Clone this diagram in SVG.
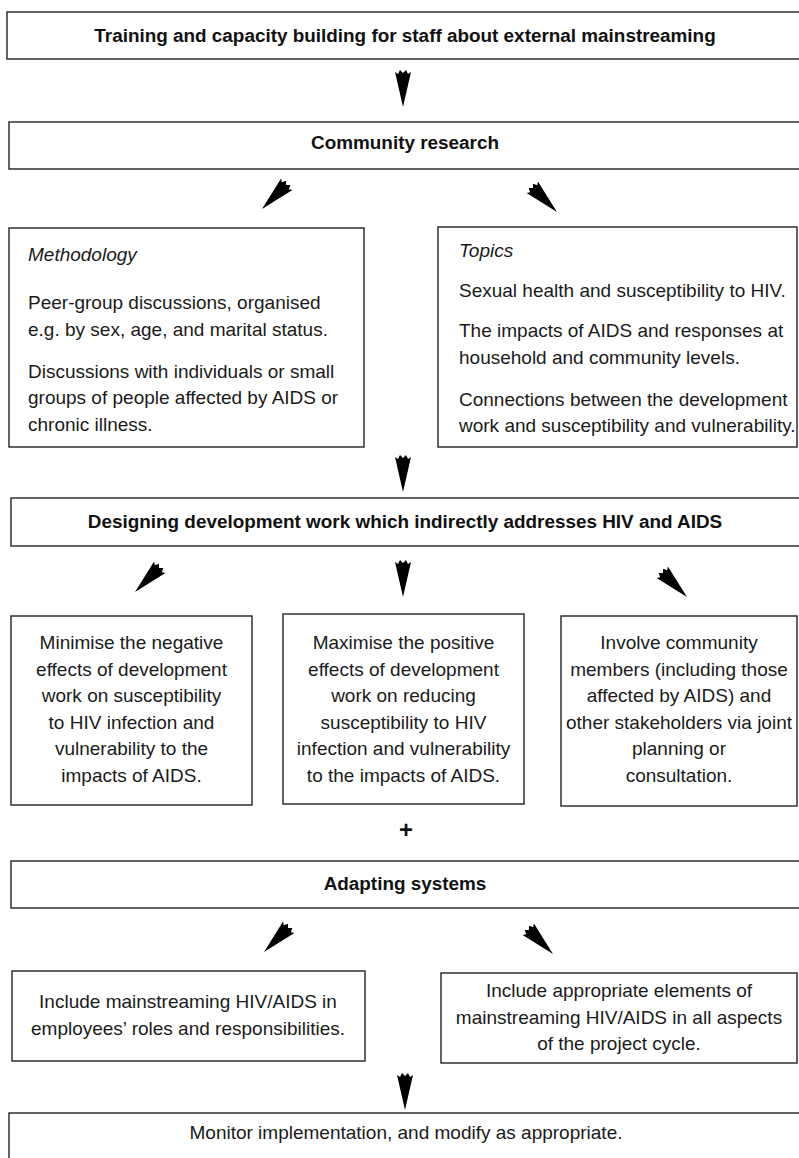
<svg xmlns="http://www.w3.org/2000/svg" xmlns:xlink="http://www.w3.org/1999/xlink" width="799" height="1158" viewBox="0 0 799 1158">
<style>
.box{fill:#fff;stroke:#222;stroke-width:1.4}
.b{font-family:"Liberation Sans",Arial,sans-serif;font-weight:bold;font-size:18.9px;fill:#111;text-anchor:middle}
.t{font-family:"Liberation Sans",Arial,sans-serif;font-size:19px;fill:#1a1a1a}
.c{text-anchor:middle}
.i{font-style:italic}
.arr{fill:#000}
</style>
<defs>
<path id="ah" d="M0,0 L-8,-35 L-5,-33 L-3,-37 L0,-34 L3,-37 L5,-33 L8,-35 Z"/>
</defs>
<rect width="799" height="1158" fill="#fff"/>
<g id="n-training"><rect class="box" x="7" y="12" width="820" height="47"/><text class="b" x="405" y="42">Training and capacity building for staff about external mainstreaming</text></g>
<g id="n-community"><rect class="box" x="9" y="122" width="820" height="47"/><text class="b" x="405" y="149">Community research</text></g>
<g id="n-methodology"><rect class="box" x="9" y="228" width="355" height="219"/>
<text class="t i" x="28" y="261">Methodology</text>
<text class="t" x="28" y="309">Peer-group discussions, organised</text>
<text class="t" x="28" y="336">e.g. by sex, age, and marital status.</text>
<text class="t" x="28" y="378">Discussions with individuals or small</text>
<text class="t" x="28" y="404">groups of people affected by AIDS or</text>
<text class="t" x="28" y="431">chronic illness.</text></g>
<g id="n-topics"><rect class="box" x="438" y="227" width="359" height="220"/>
<text class="t i" x="459" y="257">Topics</text>
<text class="t" x="459" y="297">Sexual health and susceptibility to HIV.</text>
<text class="t" x="459" y="337">The impacts of AIDS and responses at</text>
<text class="t" x="459" y="364">household and community levels.</text>
<text class="t" x="459" y="406">Connections between the development</text>
<text class="t" x="459" y="432">work and susceptibility and vulnerability.</text></g>
<g id="n-designing"><rect class="box" x="11" y="498" width="820" height="48"/><text class="b" x="405" y="528">Designing development work which indirectly addresses HIV and AIDS</text></g>
<g id="n-minimise"><rect class="box" x="11" y="616" width="241" height="189"/>
<text class="t c" x="131.5" y="649">Minimise the negative</text>
<text class="t c" x="131.5" y="675.5">effects of development</text>
<text class="t c" x="131.5" y="702">work on susceptibility</text>
<text class="t c" x="131.5" y="728.5">to HIV infection and</text>
<text class="t c" x="131.5" y="755">vulnerability to the</text>
<text class="t c" x="131.5" y="781.5">impacts of AIDS.</text></g>
<g id="n-maximise"><rect class="box" x="283" y="614" width="241" height="190"/>
<text class="t c" x="403.5" y="649">Maximise the positive</text>
<text class="t c" x="403.5" y="675.5">effects of development</text>
<text class="t c" x="403.5" y="702">work on reducing</text>
<text class="t c" x="403.5" y="728.5">susceptibility to HIV</text>
<text class="t c" x="403.5" y="755">infection and vulnerability</text>
<text class="t c" x="403.5" y="781.5">to the impacts of AIDS.</text></g>
<g id="n-involve"><rect class="box" x="561" y="616" width="236" height="190"/>
<text class="t c" x="679" y="649">Involve community</text>
<text class="t c" x="679" y="675.5">members (including those</text>
<text class="t c" x="679" y="702">affected by AIDS) and</text>
<text class="t c" x="679" y="728.5">other stakeholders via joint</text>
<text class="t c" x="679" y="755">planning or</text>
<text class="t c" x="679" y="781.5">consultation.</text></g>
<g id="n-plus"><text class="b" x="406" y="838" style="font-size:24px">+</text></g>
<g id="n-adapting"><rect class="box" x="11" y="861" width="820" height="47"/><text class="b" x="405" y="890">Adapting systems</text></g>
<g id="n-include-roles"><rect class="box" x="12" y="971" width="353" height="90"/>
<text class="t c" x="188" y="1008">Include mainstreaming HIV/AIDS in</text>
<text class="t c" x="188" y="1034.5">employees’ roles and responsibilities.</text></g>
<g id="n-include-cycle"><rect class="box" x="441" y="973" width="356" height="90"/>
<text class="t c" x="619" y="997">Include appropriate elements of</text>
<text class="t c" x="619" y="1023.5">mainstreaming HIV/AIDS in all aspects</text>
<text class="t c" x="619" y="1050">of the project cycle.</text></g>
<g id="n-monitor"><rect class="box" x="9" y="1113" width="820" height="60"/><text class="t c" x="406" y="1139">Monitor implementation, and modify as appropriate.</text></g>
<g id="connectors" class="arr">
<use xlink:href="#ah" transform="translate(403,107)"/>
<use xlink:href="#ah" transform="translate(262,209) rotate(45)"/>
<use xlink:href="#ah" transform="translate(557,212) rotate(-45)"/>
<use xlink:href="#ah" transform="translate(403,492)"/>
<use xlink:href="#ah" transform="translate(135,592) rotate(45)"/>
<use xlink:href="#ah" transform="translate(403,597)"/>
<use xlink:href="#ah" transform="translate(687,597) rotate(-45)"/>
<use xlink:href="#ah" transform="translate(264,952) rotate(45)"/>
<use xlink:href="#ah" transform="translate(553,954) rotate(-45)"/>
<use xlink:href="#ah" transform="translate(405,1110)"/>
</g>
</svg>
